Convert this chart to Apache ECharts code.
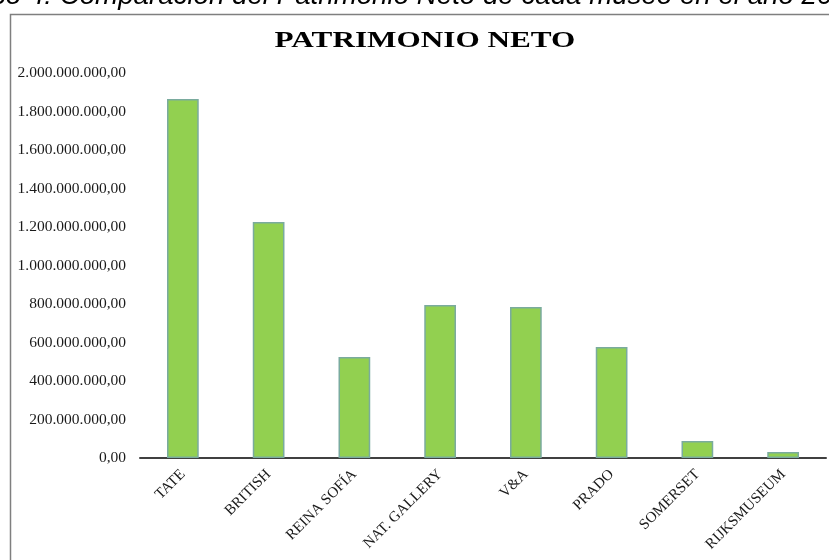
<!DOCTYPE html>
<html>
<head>
<meta charset="utf-8">
<script src="https://cdn.jsdelivr.net/npm/echarts@6/dist/echarts.min.js"></script>
<style>
  html, body { margin: 0; padding: 0; background: #ffffff; }
  #chart { width: 829px; height: 560px; }
</style>
</head>
<body>
<div id="chart"></div>
<script>
const categories = ['TATE', 'BRITISH', 'REINA SOFÍA', 'NAT. GALLERY', 'V&A', 'PRADO', 'SOMERSET', 'RIJKSMUSEUM'];
const patrimonioNeto = [1865000000, 1226000000, 525000000, 795000000, 784000000, 577000000, 88000000, 31000000];
const chartTitle = 'PATRIMONIO NETO';
const captionText = 'Gráfico 4: Comparación del Patrimonio Neto de cada museo en el año 2015';
const yMax = 2000000000;
const yStep = 200000000;

function fmtNum(v) {
  const parts = Number(v).toFixed(2).split('.');
  const intPart = parts[0].replace(/\B(?=(\d{3})+(?!\d))/g, '.');
  return intPart + ',' + parts[1];
}

const chart = echarts.init(document.getElementById('chart'), null, { renderer: 'canvas' });
chart.setOption({
  backgroundColor: '#ffffff',
  animation: false,
  graphic: [
    {
      type: 'rect', left: 8, top: 12, z: 0,
      shape: { x: 0, y: 0, width: 900, height: 700 },
      style: { fill: 'none', stroke: '#7f7f7f', lineWidth: 1.5 }
    },
    {
      type: 'text', x: -68, y: 10, z: 10,
      style: {
        text: captionText,
        font: 'italic 27.7px "Liberation Sans", Arial, sans-serif',
        fill: '#000000',
        textAlign: 'left',
        textVerticalAlign: 'bottom'
      }
    },
    {
      type: 'text', x: 425, y: 53, z: 10, scaleX: 1.3,
      style: {
        text: chartTitle,
        font: 'bold 24px "Liberation Serif", "Times New Roman", serif',
        fill: '#000000',
        textAlign: 'center',
        textVerticalAlign: 'bottom'
      }
    }
  ],
  grid: { left: 140, right: 3, top: 73, bottom: 102, containLabel: false },
  xAxis: {
    type: 'category',
    data: categories,
    axisTick: { show: false },
    axisLine: { lineStyle: { color: '#404040', width: 2 } },
    axisLabel: {
      rotate: 45,
      interval: 0,
      margin: 14,
      color: '#1a1a1a',
      fontFamily: '"Liberation Serif", "Times New Roman", serif',
      fontSize: 15
    }
  },
  yAxis: {
    type: 'value',
    min: 0,
    max: yMax,
    interval: yStep,
    axisLine: { show: false },
    axisTick: { show: false },
    splitLine: { show: false },
    axisLabel: {
      margin: 14,
      color: '#1a1a1a',
      fontFamily: '"Liberation Serif", "Times New Roman", serif',
      fontSize: 15.5,
      formatter: fmtNum
    }
  },
  series: [{
    type: 'bar',
    data: patrimonioNeto,
    barWidth: '37%',
    itemStyle: {
      color: '#92d050',
      borderColor: '#7aab9e',
      borderWidth: 1.5
    }
  }]
});
</script>
</body>
</html>
